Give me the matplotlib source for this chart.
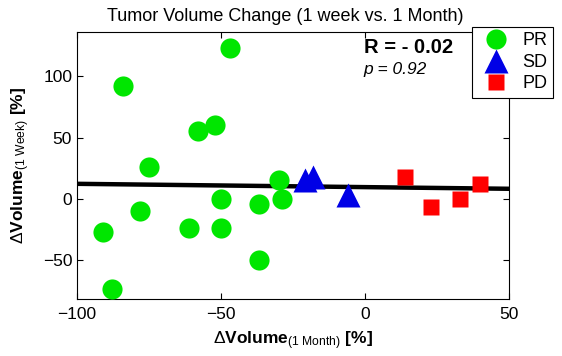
import numpy as np
import matplotlib.pyplot as plt

plt.rcParams['font.family'] = ['Liberation Sans', 'DejaVu Sans']
plt.rcParams['mathtext.fontset'] = 'custom'
plt.rcParams['mathtext.rm'] = 'Liberation Sans'
plt.rcParams['mathtext.bf'] = 'Liberation Sans:bold'
plt.rcParams['mathtext.it'] = 'Liberation Sans:italic'

# data: change at 1 month (x) vs change at 1 week (y)
pr_month = [-47, -84, -58, -52, -75, -30, -50, -37, -29, -78, -91, -61, -50, -37, -88]
pr_week = [123, 92, 55, 60, 26, 15, 0, -4, 0, -10, -27, -24, -24, -50, -74]
sd_month = [-21, -18, -6]
sd_week = [15, 18, 3]
pd_month = [14, 23, 33, 40]
pd_week = [18, -7, 0, 12]

# regression line (slope, intercept) as drawn
fit_coef = [-0.027, 9.5]
r_text = 'R = - 0.02'
p_text = 'p = 0.92'

fig = plt.figure(figsize=(5.62, 3.56), dpi=100)
ax = fig.add_axes([0.137, 0.160, 0.769, 0.749])

xl = np.array([-100, 50])
ax.plot(xl, np.polyval(fit_coef, xl), color='black', lw=3.2, zorder=2)

ax.plot(pr_month, pr_week, 'o', color='#00e600', ms=14.5, mec='none', label='PR', zorder=3)
ax.plot(sd_month, sd_week, '^', color='#0000e6', ms=17, mec='none', label='SD', zorder=3)
ax.plot(pd_month, pd_week, 's', color='#ff0000', ms=12, mec='none', label='PD', zorder=3)

ax.set_xlim(-100, 50)
ax.set_ylim(-82, 136)
ax.set_xticks([-100, -50, 0, 50])
ax.set_yticks([-50, 0, 50, 100])
ax.tick_params(direction='in', top=True, right=True, labelsize=12.5, length=4)
ax.tick_params(axis='x', pad=6)
for s in ax.spines.values():
    s.set_linewidth(0.8)

ax.set_title('Tumor Volume Change (1 week vs. 1 Month)', fontsize=13, pad=8, x=0.483)
ax.set_xlabel(r'$\Delta\mathbf{Volume}_{\mathrm{(1\ Month)}}\ \mathbf{[\%]}$', fontsize=12.5, labelpad=5)
ax.set_ylabel(r'$\Delta\mathbf{Volume}_{\mathrm{(1\ Week)}}\ \mathbf{[\%]}$', fontsize=12.5, labelpad=8)

ax.text(-0.5, 124, r_text, fontsize=14.5, fontweight='bold', ha='left', va='center')
ax.text(-0.5, 106, p_text, fontsize=12.5, style='italic', ha='left', va='center')

leg = ax.legend(loc='upper right', bbox_to_anchor=(553 / 562, 1 - 27 / 356),
                bbox_transform=fig.transFigure, fontsize=13, fancybox=False,
                edgecolor='black', framealpha=1, borderaxespad=0, handletextpad=0.5,
                labelspacing=0.25, borderpad=0.3, handlelength=2.0)
leg.get_frame().set_linewidth(0.8)

plt.savefig('out.png', dpi=100)
